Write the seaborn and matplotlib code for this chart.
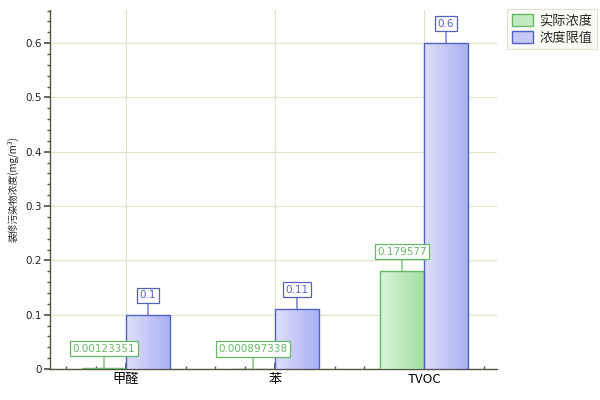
import numpy as np
import pandas as pd
import matplotlib
matplotlib.use("Agg")
import matplotlib.pyplot as plt
from matplotlib.colors import LinearSegmentedColormap
from matplotlib.patches import Patch
from matplotlib.ticker import MultipleLocator
import seaborn as sns

categories = ["甲醛", "苯", "TVOC"]
actual = [0.00123351, 0.000897338, 0.179577]
limit = [0.1, 0.11, 0.6]
actual_labels = ["0.00123351", "0.000897338", "0.179577"]
limit_labels = ["0.1", "0.11", "0.6"]
series = ["实际浓度", "浓度限值"]
ylabel = "装修污染物浓度(mg/m³)"

sns.set_theme(style="white")
plt.rcParams["font.family"] = ["Noto Sans CJK SC", "DejaVu Sans"]

df = pd.DataFrame({
    "cat": categories * 2,
    "val": actual + limit,
    "ser": [series[0]] * 3 + [series[1]] * 3,
})

edge = {series[0]: "#66b866", series[1]: "#5560c4"}
grad = {
    series[0]: ("#dbf4db", "#a3dea3"),
    series[1]: ("#dde0fb", "#aab1f3"),
}
legc = {series[0]: "#c2eac2", series[1]: "#c4c9f7"}
txtc = {series[0]: "#66b866", series[1]: "#5560c4"}

fig = plt.figure(figsize=(6, 4), dpi=100)
ax = fig.add_axes([50 / 600, 31 / 400, 447 / 600, 359 / 400])

sns.barplot(data=df, x="cat", y="val", hue="ser", order=categories,
            hue_order=series, width=0.59, gap=0, ax=ax, legend=False,
            palette=[grad[series[0]][1], grad[series[1]][1]])

patches = [p for p in ax.patches]
for i, p in enumerate(patches):
    s = series[i // 3]
    p.set_edgecolor(edge[s])
    p.set_linewidth(1.0)
    x0, y0 = p.get_x(), p.get_y()
    w, h = p.get_width(), p.get_height()
    cmap = LinearSegmentedColormap.from_list("g", list(grad[s]))
    img = ax.imshow(np.linspace(0, 1, 64).reshape(1, -1), cmap=cmap,
                    extent=[x0, x0 + w, y0, y0 + h], aspect="auto",
                    interpolation="bilinear")
    img.set_clip_path(p)
    p.set_facecolor("none")
    p.set_zorder(3)
    img.set_zorder(2.9)

ax.set_xlim(-0.51, 2.49)
ax.set_ylim(0, 0.661)

labs_all = [actual_labels, limit_labels]
for i, p in enumerate(patches):
    s = series[i // 3]
    j = i % 3
    cx = p.get_x() + p.get_width() / 2
    top = p.get_height()
    ax.annotate(labs_all[i // 3][j], xy=(cx, top), xytext=(0, 10.5),
                textcoords="offset points", ha="center", va="bottom",
                fontsize=7.5, color=txtc[s], family="DejaVu Sans",
                bbox=dict(boxstyle="square,pad=0.25", fc="white", ec=edge[s], lw=0.9),
                arrowprops=dict(arrowstyle="-", color=edge[s], lw=0.9,
                                shrinkA=0, shrinkB=0),
                zorder=5)

axcol = "#555544"
gridcol = "#e3e3cc"
for sp in ["top", "right"]:
    ax.spines[sp].set_visible(False)
for sp in ["left", "bottom"]:
    ax.spines[sp].set_color(axcol)
    ax.spines[sp].set_linewidth(1.0)

ax.set_yticks([0, 0.1, 0.2, 0.3, 0.4, 0.5, 0.6])
ax.set_yticklabels(["0", "0.1", "0.2", "0.3", "0.4", "0.5", "0.6"])
ax.yaxis.set_minor_locator(MultipleLocator(0.02))
ax.xaxis.set_minor_locator(MultipleLocator(0.2))
ax.tick_params(axis="y", which="major", direction="out", length=4, color=axcol,
               labelsize=7.5, labelcolor="#222222", left=True, pad=2)
ax.tick_params(axis="y", which="minor", direction="out", length=2, color=axcol, left=True)
ax.tick_params(axis="x", which="major", direction="in", length=4, color=axcol,
               labelsize=9.5, labelcolor="black", bottom=True, pad=3)
ax.tick_params(axis="x", which="minor", direction="in", length=2, color=axcol, bottom=True)
for lab in ax.get_yticklabels():
    lab.set_family("DejaVu Sans")

ax.grid(True, which="major", axis="both", color=gridcol, lw=0.9)
ax.set_axisbelow(True)
ax.set_xlabel("")
ax.set_ylabel(ylabel, fontsize=7, labelpad=5)

handles = [Patch(facecolor=legc[s], edgecolor=edge[s], label=s) for s in series]
leg = fig.legend(handles=handles, loc="upper left", bbox_to_anchor=(507 / 600, 1 - 9 / 400),
                 frameon=True, fancybox=False, fontsize=9.5, handlelength=1.6,
                 handleheight=1.1, handletextpad=0.5, borderpad=0.35, labelspacing=0.25,
                 borderaxespad=0)
leg.get_frame().set_edgecolor("#d8d8c4")
leg.get_frame().set_facecolor("#fbfbf6")
leg.get_frame().set_linewidth(0.8)

fig.savefig("out.png", dpi=100)
